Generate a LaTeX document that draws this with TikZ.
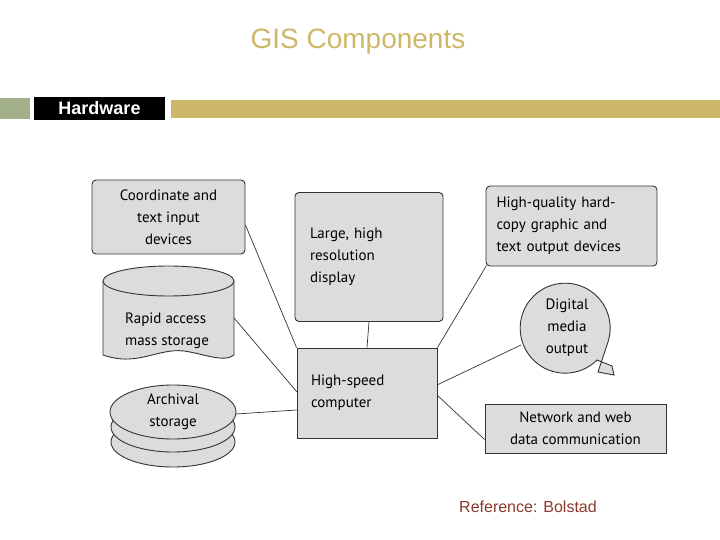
\documentclass[tikz,border=0pt]{standalone}
\usepackage{fontspec}
\setmainfont{Liberation Sans}
\newfontfamily\boxfont{PT Sans}
\usetikzlibrary{shapes.geometric}
\definecolor{gold}{HTML}{CDB86A}
\definecolor{golddark}{HTML}{9A8238}
\definecolor{sage}{HTML}{A3B18A}
\definecolor{boxgray}{HTML}{DCDCDC}
\definecolor{refred}{HTML}{8B3A2A}
\tikzset{
  x=1pt,y=-1pt,
  gbox/.style={draw=black!80,fill=boxgray,line width=0.9pt,rounded corners=4pt,align=left,font=\boxfont\fontsize{15}{22}\selectfont,inner sep=0pt},
  sqbox/.style={gbox,rounded corners=0pt},
  conn/.style={draw=black!80,line width=0.7pt},
  lbl/.style={font=\boxfont\fontsize{15}{22}\selectfont,align=left},
  disk/.style={draw=black!80,line width=0.9pt,fill=boxgray}
}
\begin{document}
\begin{tikzpicture}
\useasboundingbox (0,0) rectangle (720,540);
% header
\node[font=\fontsize{28}{30}\selectfont,text=gold] (title) at (358,42) {GIS Components};
\fill[sage] (0,98) rectangle (30,119);
\node[fill=black,text=white,font=\bfseries\fontsize{18}{20}\selectfont,minimum width=131pt,minimum height=23pt,inner sep=0pt] (hw) at (99.5,108.5) {Hardware};
\fill[gold] (171,100) rectangle (720,118);
% boxes
\node[gbox,minimum width=153pt,minimum height=74pt,align=center] (coord) at (168.5,217) {Coordinate and\\text input\\devices};
\node[gbox,minimum width=148pt,minimum height=129pt,text width=118pt] (disp) at (369,257) {Large, high\\resolution\\display};
\node[sqbox,minimum width=140pt,minimum height=90pt,text width=112pt] (comp) at (367,393) {High-speed\\computer};
\node[gbox,minimum width=171pt,minimum height=80pt,text width=150pt] (hq) at (571.5,226) {High-quality hard-\\copy graphic and\\text output devices};
\node[sqbox,minimum width=181pt,minimum height=49pt,align=center] (net) at (575.5,428.5) {Network and web\\data communication};
% digital media output bubble
\draw[conn,fill=boxgray,line width=0.9pt] (597,360) arc[start angle=45,end angle=380,radius=45] -- (598,372) -- (614,375) -- (612,366) -- cycle;
\node[lbl,align=center] (dig) at (567,328) {Digital\\media\\output};
\coordinate (digl) at (521,345);
% cylinder rapid access
\draw[disk] (103,281) -- (103,355) .. controls (140,368) and (160,345) .. (190,352) .. controls (210,356) and (225,362) .. (234,355) -- (234,281);
\draw[disk] (168.5,281) ellipse[x radius=65.5,y radius=15];
\node[lbl,align=left] (rapid) at (167,331) {Rapid access\\mass storage};
% archival stacked disks
\draw[disk] (173,442) ellipse[x radius=62,y radius=25];
\draw[disk] (173,427) ellipse[x radius=62,y radius=25];
\draw[disk] (173,412) ellipse[x radius=63,y radius=27];
\node[lbl,align=center] (arch) at (173,412) {Archival\\storage};
% connectors
\draw[conn] (coord.east) ++(0,8) -- (comp.north west);
\draw[conn] (234,318) -- (297,392);
\draw[conn] (236,414) -- (comp.west |- 0,410);
\draw[conn] (disp.south) -- (comp.north);
\draw[conn] (hq.south west) ++(1,-1) -- (comp.north east);
\draw[conn] (digl) -- (437,385);
\draw[conn] (net.west) ++(0,11) -- (437,395);
% reference
\node[font=\fontsize{16}{18}\selectfont,text=refred] (ref) at (528,507) {Reference: Bolstad};
\end{tikzpicture}
\end{document}
